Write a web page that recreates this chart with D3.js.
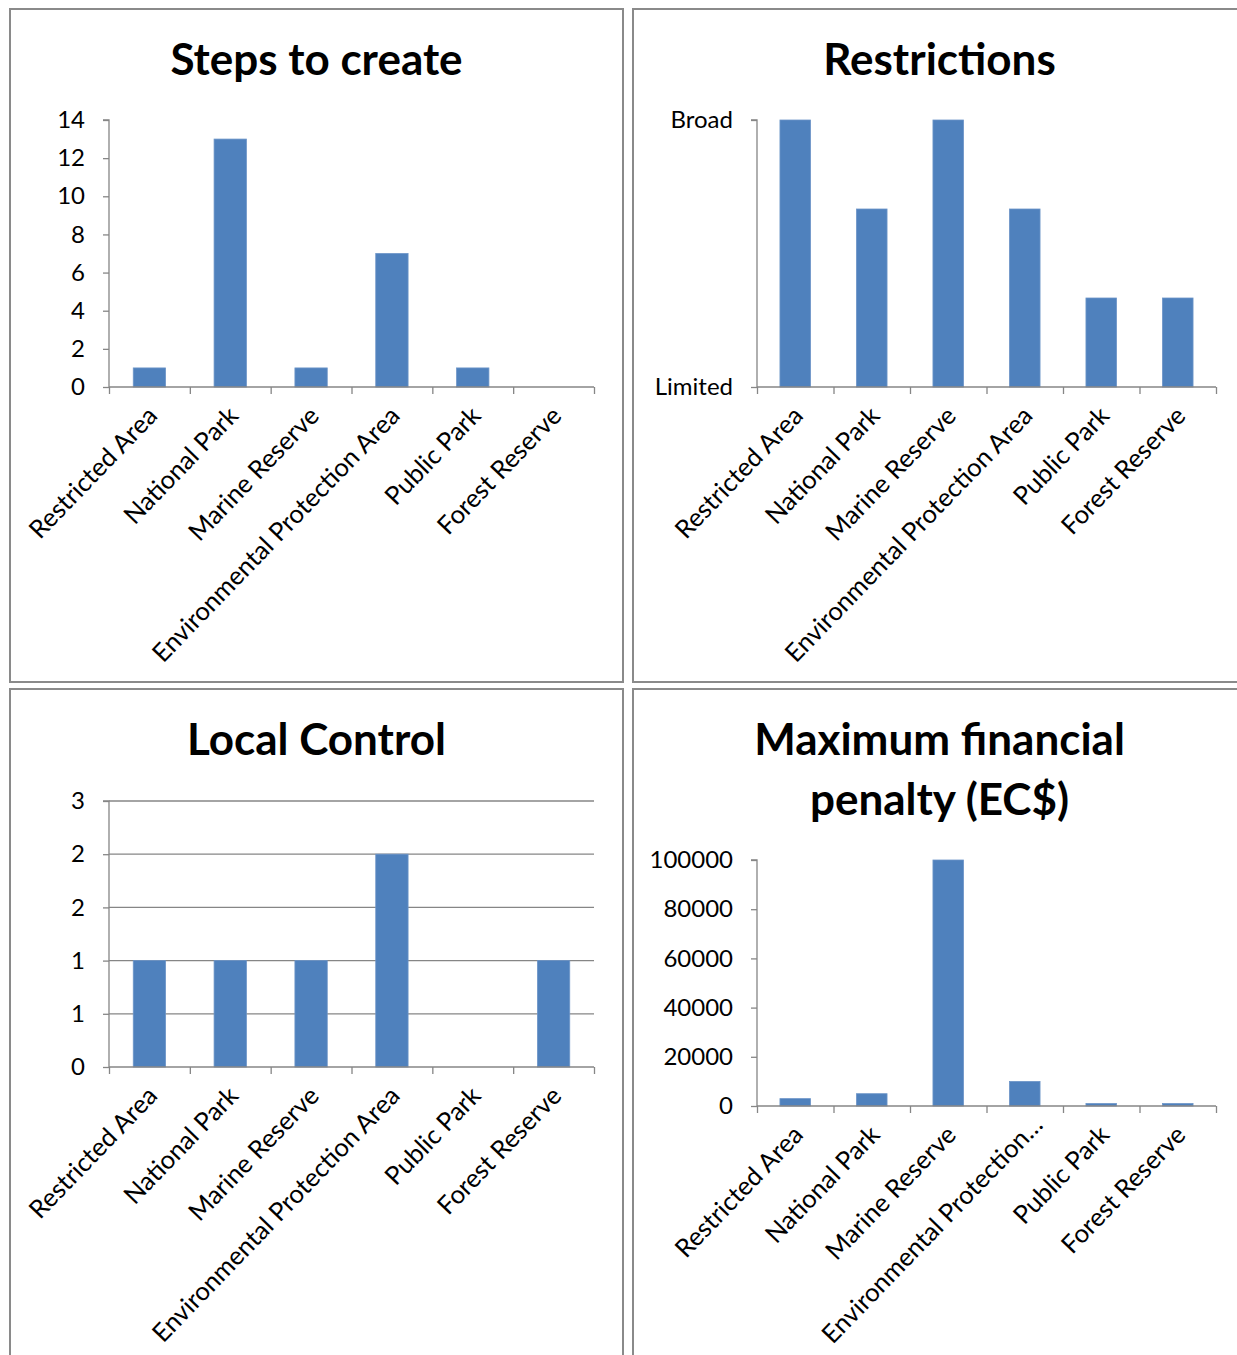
<!DOCTYPE html>
<html>
<head>
<meta charset="utf-8">
<script src="https://cdn.jsdelivr.net/npm/d3@7"></script>
<style>
    body { margin: 0; background: #fff; }
    svg { display: block; }
    text { font-family: Lato, "Open Sans", sans-serif; fill: #000; }
    .panel-frame { fill: #fff; stroke: #8a8a8a; stroke-width: 2; }
    .axis path, .axis line { stroke: #868686; stroke-width: 1.3; }
    .axis text { font-size: 24px; }
    .grid line { stroke: #868686; stroke-width: 1.3; }
    .chart-title { font-size: 44px; font-weight: bold; }
</style>
</head>
<body>
<div id="chart"></div>
<script>
// categories along the x axis
const categories = ["Restricted Area", "National Park", "Marine Reserve",
    "Environmental Protection Area", "Public Park", "Forest Reserve"];
const penaltyCategoryLabels = ["Restricted Area", "National Park", "Marine Reserve",
    "Environmental Protection\u2026", "Public Park", "Forest Reserve"];

// series values
const stepsValues = [1, 13, 1, 7, 1, 0];
const restrictionValues = [3, 2, 3, 2, 1, 1];
const localControlValues = [1, 1, 1, 2, 0, 1];
const penaltyValues = [3000, 5000, 100000, 10000, 1000, 1000];

// tick values and labels
const stepsTicks = [0, 2, 4, 6, 8, 10, 12, 14];
const restrictionTicks = [0, 3];
const restrictionTickLabels = ["Limited", "Broad"];
const localControlTicks = [0, 0.5, 1, 1.5, 2, 2.5];
const localControlTickLabels = ["0", "1", "1", "2", "2", "3"];
const penaltyTicks = [0, 20000, 40000, 60000, 80000, 100000];

const width = 1237, height = 1355;
const barColor = "#4f81bd";

const svg = d3.select("#chart").append("svg")
    .attr("width", width)
    .attr("height", height);

function create_bar_panel(opts) {
    const g = svg.append("g")
        .attr("transform", `translate(${opts.x},${opts.y})`);

    // panel frame
    g.append("rect")
        .attr("class", "panel-frame")
        .attr("x", 0).attr("y", 0)
        .attr("width", opts.w).attr("height", opts.h);

    // title (one or more lines)
    opts.title.forEach((line, i) => {
        g.append("text")
            .attr("class", "chart-title")
            .attr("x", opts.w / 2)
            .attr("y", opts.titleY + i * 60)
            .attr("text-anchor", "middle")
            .text(line);
    });

    const plot = g.append("g")
        .attr("transform", `translate(${opts.left},${opts.top})`);
    const innerWidth = opts.right - opts.left;
    const innerHeight = opts.bottom - opts.top;

    const xScale = d3.scaleBand()
        .domain(categories)
        .range([0, innerWidth])
        .paddingInner(0.6)
        .paddingOuter(0.3);
    const xEdges = d3.scaleLinear()
        .domain([0, categories.length])
        .range([0, innerWidth]);

    const yScale = d3.scaleLinear()
        .domain(opts.domain)
        .range([innerHeight, 0]);

    // horizontal gridlines (local control only)
    if (opts.grid) {
        plot.append("g")
            .attr("class", "grid")
            .selectAll("line")
            .data(opts.ticks.filter(t => t > 0))
            .join("line")
            .attr("x1", 0).attr("x2", innerWidth)
            .attr("y1", d => yScale(d)).attr("y2", d => yScale(d));
    }

    // bars
    plot.selectAll("rect.bar")
        .data(opts.values)
        .join("rect")
        .attr("class", "bar")
        .attr("x", (d, i) => xScale(categories[i]))
        .attr("y", d => yScale(d))
        .attr("width", xScale.bandwidth())
        .attr("height", d => innerHeight - yScale(d))
        .attr("fill", barColor)
        .attr("stroke", d => d > 0 ? "#6d95c8" : "none")
        .attr("stroke-width", 0.8);

    // y axis
    const yAxis = d3.axisLeft(yScale)
        .tickValues(opts.ticks)
        .tickSize(6)
        .tickPadding(18)
        .tickFormat((d, i) => opts.tickLabels ? opts.tickLabels[i] : d);
    plot.append("g")
        .attr("class", "axis")
        .call(yAxis)
        .call(a => a.select(".domain").attr("d", `M0,${innerHeight}V0H-6`));

    // x axis: line with tick marks at category boundaries
    const xAxis = d3.axisBottom(xEdges)
        .tickValues(d3.range(categories.length + 1))
        .tickSize(7)
        .tickFormat("");
    plot.append("g")
        .attr("class", "axis")
        .attr("transform", `translate(0,${innerHeight})`)
        .call(xAxis)
        .call(a => a.select(".domain").attr("d", `M0,0H${innerWidth}`));

    // rotated category labels (truncated labels sit a little further up-right)
    const shift = opts.labelShift || {};
    plot.append("g")
        .selectAll("text")
        .data(opts.labels)
        .join("text")
        .attr("transform", (d, i) => {
            const s = shift[i] || [0, 0];
            const lx = xScale(categories[i]) + xScale.bandwidth() / 2 + 3 + s[0];
            const ly = innerHeight + 24 + s[1];
            return `translate(${lx},${ly}) rotate(-46)`;
        })
        .attr("text-anchor", "end")
        .attr("dy", "0.35em")
        .style("font-size", "25.5px")
        .text(d => d);
}

create_bar_panel({
    x: 10, y: 9, w: 613, h: 673,
    title: ["Steps to create"], titleY: 66,
    left: 99, right: 584, top: 111, bottom: 378,
    domain: [0, 14], ticks: stepsTicks,
    values: stepsValues, labels: categories
});

create_bar_panel({
    x: 633, y: 9, w: 613, h: 673,
    title: ["Restrictions"], titleY: 66,
    left: 124, right: 583, top: 111, bottom: 378,
    domain: [0, 3], ticks: restrictionTicks, tickLabels: restrictionTickLabels,
    values: restrictionValues, labels: categories
});

create_bar_panel({
    x: 10, y: 689, w: 613, h: 680,
    title: ["Local Control"], titleY: 66,
    left: 99, right: 584, top: 112, bottom: 378,
    domain: [0, 2.5], ticks: localControlTicks, tickLabels: localControlTickLabels,
    grid: true,
    values: localControlValues, labels: categories
});

create_bar_panel({
    x: 633, y: 689, w: 613, h: 680,
    title: ["Maximum financial", "penalty (EC$)"], titleY: 66,
    left: 124, right: 583, top: 171, bottom: 417,
    domain: [0, 100000], ticks: penaltyTicks,
    values: penaltyValues, labels: penaltyCategoryLabels,
    labelShift: { 3: [10, -10] }
});
</script>
</body>
</html>
